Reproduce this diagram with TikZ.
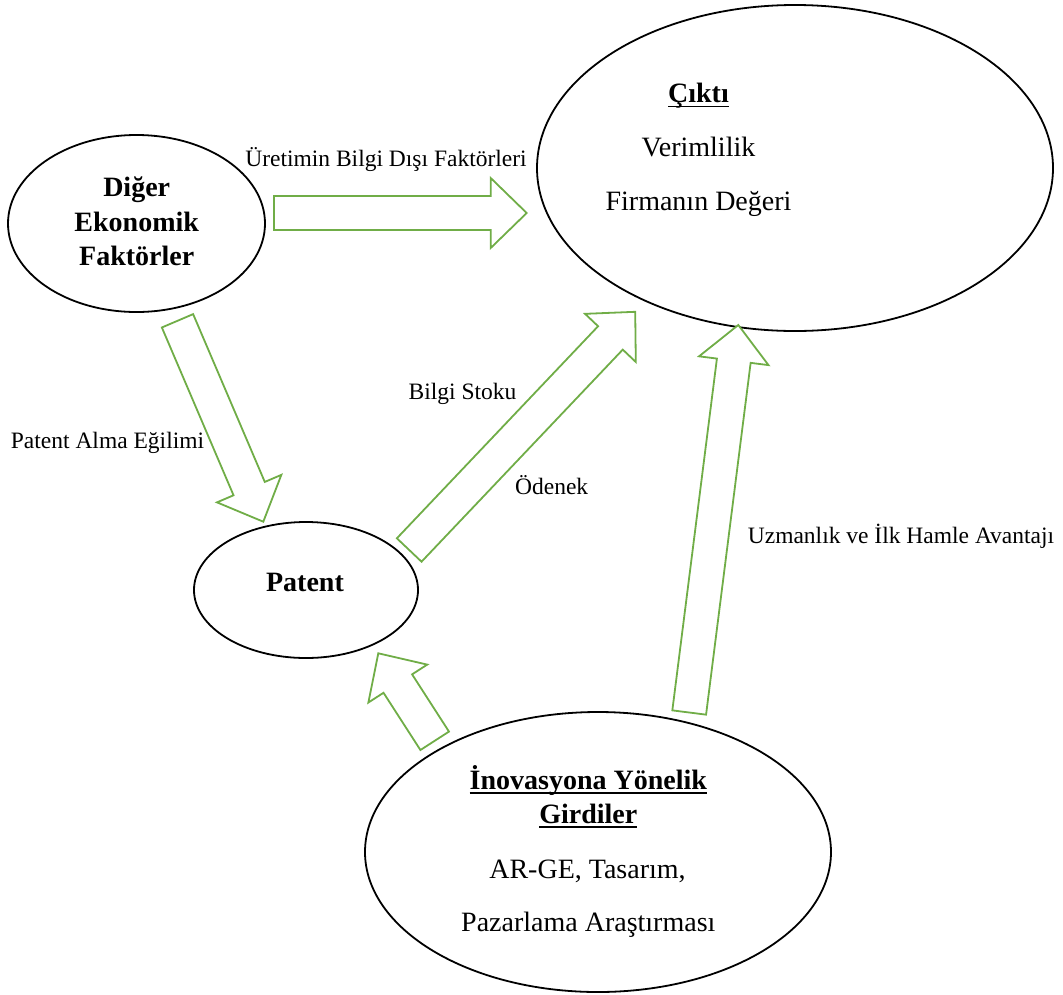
\documentclass[tikz,border=0pt]{standalone}
\usepackage{fontspec}
\setmainfont{Liberation Serif}
\usetikzlibrary{calc,shapes.geometric}
\definecolor{agreen}{HTML}{70AD47}
\newcommand\ulx[1]{\setbox0\hbox{#1}\rlap{\rule[-4.5pt]{\wd0}{1.5pt}}\box0}
\newcommand\blockarrow[2]{%
  \path ($(#2)!36pt!(#1)$) coordinate (bh);
  \draw[barrow] ($(#1)!17pt!90:(#2)$) -- ($(bh)!17pt!90:(#2)$) -- ($(bh)!35pt!90:(#2)$)
    -- (#2) -- ($(bh)!35pt!-90:(#2)$) -- ($(bh)!17pt!-90:(#2)$) -- ($(#1)!17pt!-90:(#2)$) -- cycle;}
\tikzset{
  oval/.style={draw=black, line width=1.8pt, ellipse, inner sep=0pt},
  barrow/.style={draw=agreen, line width=1.8pt, fill=white, line join=miter},
  big/.style={font=\fontsize{28}{32}\selectfont, anchor=base, inner sep=0pt},
  bigb/.style={font=\fontsize{28}{32}\selectfont\bfseries, anchor=base, inner sep=0pt},
  lab/.style={font=\fontsize{23.5}{28}\selectfont, anchor=base, inner sep=0pt}
}
\begin{document}
\begin{tikzpicture}[x=1pt,y=-1pt]
\useasboundingbox (0,0) rectangle (1063,994);
% ellipses
\node[oval, minimum width=516pt, minimum height=326pt] (cikti) at (795,168) {};
\node[oval, minimum width=257pt, minimum height=177pt] (diger) at (136.5,223.5) {};
\node[oval, minimum width=224pt, minimum height=136pt] (patent) at (306,590) {};
\node[oval, minimum width=466pt, minimum height=280pt] (inov) at (598,852) {};
% texts in ellipses
\node[bigb] (t1) at (698.5,102.7) {\ulx{Çıktı}};
\node[big] (t2) at (698.5,156.7) {Verimlilik};
\node[big] (t3) at (698.5,210.7) {Firmanın Değeri};
\node[bigb] (d1) at (136.7,196.7) {Diğer};
\node[bigb] (d2) at (136.7,231) {Ekonomik};
\node[bigb] (d3) at (136.7,265) {Faktörler};
\node[bigb] (p1) at (305,591) {Patent};
\node[bigb] (i1) at (588.3,789.3) {\ulx{İnovasyona Yönelik}};
\node[bigb] (i2) at (588.3,823.3) {\ulx{Girdiler}};
\node[big] (i3) at (587.5,878.3) {AR-GE, Tasarım,};
\node[big] (i4) at (588.3,931.7) {Pazarlama Araştırması};
% arrow end points
\coordinate (a1s) at (274,213);     \coordinate (a1e) at (526.7,213);
\coordinate (a2s) at (177.5,320.8); \coordinate (a2e) at (263.3,521.7);
\coordinate (a3s) at (409.2,550);   \coordinate (a3e) at (635.2,311.8);
\coordinate (a4s) at (689.2,712.5); \coordinate (a4e) at (738.3,325);
\coordinate (a5s) at (434.7,740.8); \coordinate (a5e) at (378.3,653.3);
\blockarrow{a1s}{a1e}
\blockarrow{a2s}{a2e}
\blockarrow{a3s}{a3e}
\blockarrow{a4s}{a4e}
\blockarrow{a5s}{a5e}
% labels
\node[lab] (l1) at (386,166) {Üretimin Bilgi Dışı Faktörleri};
\node[lab] (l2) at (107.5,448.3) {Patent Alma Eğilimi};
\node[lab] (l3) at (462.5,399.3) {Bilgi Stoku};
\node[lab] (l4) at (551.7,494) {Ödenek};
\node[lab] (l5) at (901,543) {Uzmanlık ve İlk Hamle Avantajı};
\end{tikzpicture}
\end{document}
